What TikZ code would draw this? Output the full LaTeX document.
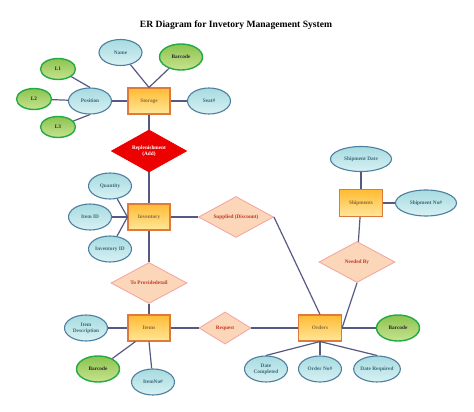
\documentclass[tikz,border=0pt]{standalone}
\usepackage{fontspec}
\setmainfont{Liberation Serif}
\usetikzlibrary{shapes.geometric}
\definecolor{lnc}{HTML}{555A82}
\definecolor{attrb}{HTML}{4F7FA0}
\definecolor{attrt}{HTML}{3D6A7A}
\definecolor{attrtop}{HTML}{A6DBE0}
\definecolor{attrbot}{HTML}{D8F1F3}
\definecolor{grb}{HTML}{22AA44}
\definecolor{grtop}{HTML}{8CC34F}
\definecolor{grbot}{HTML}{C8E390}
\definecolor{boxb}{HTML}{E07A3A}
\definecolor{boxtop}{HTML}{FFBB33}
\definecolor{boxbot}{HTML}{FFE79A}
\definecolor{boxt}{HTML}{8A6A3A}
\definecolor{relf}{HTML}{FCD6B8}
\definecolor{relb}{HTML}{F2A9A3}
\definecolor{relt}{HTML}{C0392B}
\tikzset{
  every node/.style={font=\fontsize{5.3pt}{6.2pt}\selectfont\bfseries, inner sep=0pt, align=center},
  attr/.style={ellipse, draw=attrb, line width=1.1pt, top color=attrtop, bottom color=attrbot, text=attrt, minimum width=43pt, minimum height=26pt},
  gattr/.style={ellipse, draw=grb, line width=1.4pt, top color=grtop, bottom color=grbot, text=black!85, minimum width=43pt, minimum height=26pt},
  lattr/.style={gattr, minimum width=35pt, minimum height=21pt},
  ent/.style={rectangle, draw=boxb, line width=1.1pt, top color=boxtop, bottom color=boxbot, text=boxt, minimum width=42pt, minimum height=26pt},
  rel/.style={diamond, draw=relb, line width=0.9pt, fill=relf, text=relt, aspect=1.83, minimum width=75pt, minimum height=41pt},
  conn/.style={draw=lnc, line width=1.2pt}
}
\begin{document}
\begin{tikzpicture}[x=1pt,y=-1pt]
\useasboundingbox (0,0) rectangle (474,412);
\node[font=\fontsize{9.6pt}{11pt}\selectfont\bfseries] (title) at (236,25) {ER Diagram for Invetory Management System};
% connectors first (drawn beneath nodes via coordinates)
\coordinate (cstorage) at (149,101);
% Storage cluster
\node[ent] (storage) at (149,101) {Storage};
\node[attr] (name) at (120.5,52.5) {Name};
\node[gattr] (bc1) at (181,57) {Barcode};
\node[lattr] (l1) at (58,69) {L1};
\node[lattr] (l2) at (34,99) {L2};
\node[attr] (pos) at (90,101) {Position};
\node[lattr] (l3) at (58,127) {L3};
\node[attr] (seat) at (209,101) {Seat\#};
\node[rel, fill=red!93!black, draw=red!93!black, text=white, minimum width=75pt, minimum height=42pt] (repl) at (149,151) {Replenishment\\(Add)};
% Inventory
\node[ent] (inv) at (149,217) {Inventory};
\node[attr] (qty) at (110,186) {Quantity};
\node[attr] (itemid) at (90,217) {Item ID};
\node[attr] (invid) at (110,249) {Inventory ID};
\node[rel] (supp) at (236,217) {Supplied (Discount)};
% Shipments
\node[ent, minimum width=43pt, minimum height=27pt] (ship) at (361,203) {Shipments};
\node[attr, minimum width=61pt, minimum height=25pt] (sdate) at (361,159) {Shipment Date};
\node[attr, minimum width=61pt] (sno) at (426,203) {Shipment No\#};
\node[rel, minimum width=76pt] (need) at (357,262) {Needed By};
% Items
\node[rel, minimum width=76pt] (prov) at (149,283) {To Providedetail};
\node[ent] (items) at (149,328) {Items};
\node[attr] (idesc) at (86,328) {Item\\Description};
\node[gattr] (bc2) at (98,369) {Barcode};
\node[attr] (ino) at (153,382) {ItemNo\#};
\node[rel, minimum width=52pt, minimum height=32pt] (req) at (225,328) {Request};
% Orders
\node[ent, minimum width=43pt] (orders) at (320,328) {Orders};
\node[gattr] (bc3) at (398,328) {Barcode};
\node[attr] (dcomp) at (266,369) {Date\\Completed};
\node[attr] (ono) at (320,369) {Order No\#};
\node[attr] (dreq) at (377,369) {Date Required};
% connectors
\path[conn] (storage.north) -- (name);
\path[conn] (storage.north) -- (bc1);
\path[conn] (l1) -- (pos.north);
\path[conn] (l2) -- (pos);
\path[conn] (l3) -- (pos.south);
\path[conn] (pos) -- (storage);
\path[conn] (storage) -- (seat);
\path[conn] (storage) -- (repl);
\path[conn] (repl) -- (inv);
\path[conn] (qty) -- (inv.west);
\path[conn] (itemid) -- (inv.west);
\path[conn] (invid) -- (inv.west);
\path[conn] (inv) -- (supp);
\path[conn] (supp.east) -- (orders.north);
\path[conn] (inv) -- (prov);
\path[conn] (prov) -- (items);
\path[conn] (idesc) -- (items);
\coordinate (isw) at ([xshift=8pt]items.south west);
\path[conn] (isw) -- (bc2);
\path[conn] (items.south) -- (ino);
\path[conn] (items) -- (req);
\path[conn] (req) -- (orders);
\path[conn] (orders) -- (bc3);
\path[conn] (orders.south) -- (dcomp.north);
\path[conn] (orders.south) -- (ono);
\path[conn] (orders.south) -- (dreq.north);
\path[conn] (sdate) -- (ship);
\path[conn] (ship) -- (sno);
\path[conn] (ship) -- (need);
\path[conn] (need.south) -- (orders.east);
\end{tikzpicture}
\end{document}
